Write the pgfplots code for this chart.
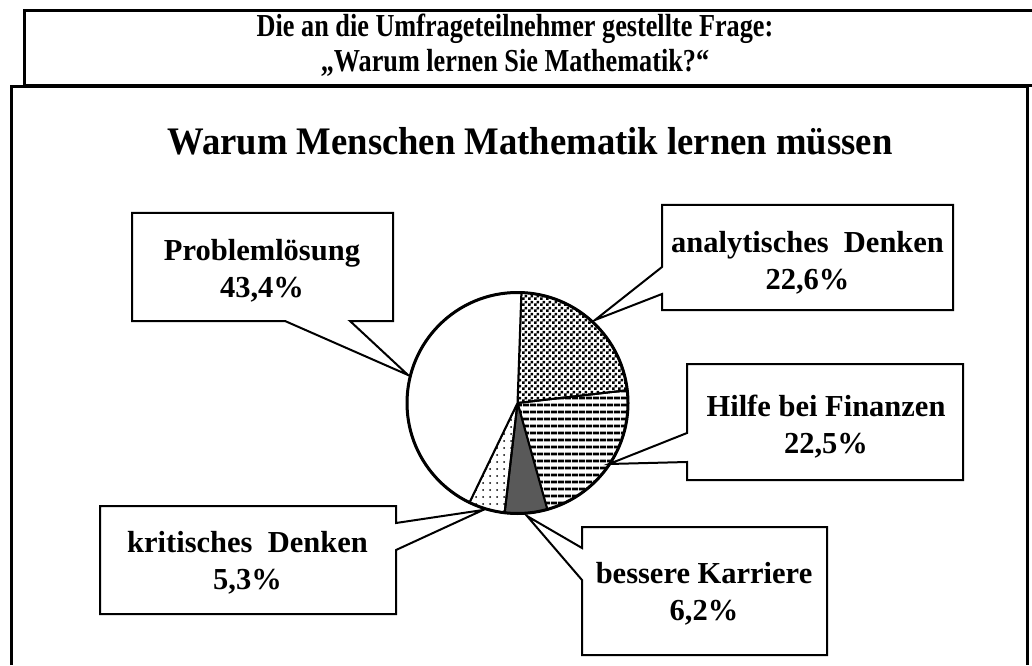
\documentclass[border=0pt]{standalone}
\usepackage{pgfplots}
\pgfplotsset{compat=1.18}
\usepackage{fontspec}
\setmainfont{Liberation Serif}
\usetikzlibrary{patterns,patterns.meta}

\pgfdeclarepatternformonly{checker}{\pgfpointorigin}{\pgfqpoint{6pt}{6pt}}{\pgfqpoint{6pt}{6pt}}{%
 \pgfpathrectangle{\pgfpointorigin}{\pgfqpoint{3pt}{3pt}}%
 \pgfpathrectangle{\pgfqpoint{3pt}{3pt}}{\pgfqpoint{3pt}{3pt}}%
 \pgfusepath{fill}}

% data (percent)
\def\vA{22.6} % analytisches Denken
\def\vB{22.5} % Hilfe bei Finanzen
\def\vC{6.2}  % bessere Karriere
\def\vD{5.3}  % kritisches Denken
\def\vE{43.4} % Problemloesung
\pgfmathsetmacro\aZ{88}
\pgfmathsetmacro\aA{\aZ-3.6*\vA}
\pgfmathsetmacro\aB{\aA-3.6*\vB}
\pgfmathsetmacro\aC{\aB-3.6*\vC}
\pgfmathsetmacro\aD{\aC-3.6*\vD}
\pgfmathsetmacro\aE{\aD-3.6*\vE}
\def\cx{517.5}
\def\cy{262}
\def\rr{110.5}

\newcommand\labfont{\fontsize{30.5}{37}\selectfont\bfseries}

\begin{document}
\begin{tikzpicture}
\begin{axis}[width=1032pt,height=665pt,scale only axis,
  xmin=0,xmax=1032,ymin=0,ymax=665,hide axis,clip=true]
\path (axis cs:0,0) rectangle (axis cs:1032,665);
% frames
\draw[line width=3pt] (axis cs:1032,579) -- (axis cs:24,579) -- (axis cs:24,654) -- (axis cs:1032,654);
\draw[line width=3pt] (axis cs:11,0) -- (axis cs:11,578) -- (axis cs:1027,578) -- (axis cs:1027,0);
% titles
\node[align=center,font=\fontsize{32}{35}\selectfont\bfseries] at (axis cs:515,619.5)
  {\scalebox{0.82}[1]{Die an die Umfrageteilnehmer gestellte Frage:}\\\scalebox{0.82}[1]{„Warum lernen Sie Mathematik?“}};
\node[font=\fontsize{39}{42}\selectfont\bfseries] at (axis cs:530,524)
  {\scalebox{0.94}[1]{Warum\ Menschen Mathematik lernen müssen}};
% callouts
\draw[line width=2pt,fill=white] (axis cs:132,452) -- (axis cs:393,452) -- (axis cs:393,344) -- (axis cs:350,344) -- (axis cs:408,290) -- (axis cs:285,344) -- (axis cs:132,344) -- cycle;
\draw[line width=2pt,fill=white] (axis cs:662,460) -- (axis cs:953,460) -- (axis cs:953,355) -- (axis cs:662,355) -- (axis cs:662,371) -- (axis cs:595,345) -- (axis cs:662,398) -- cycle;
\draw[line width=2pt,fill=white] (axis cs:687,301) -- (axis cs:963,301) -- (axis cs:963,185) -- (axis cs:687,185) -- (axis cs:687,203) -- (axis cs:609,201) -- (axis cs:687,232) -- cycle;
\draw[line width=2pt,fill=white] (axis cs:100,159) -- (axis cs:396,159) -- (axis cs:396,142) -- (axis cs:483,155) -- (axis cs:396,115) -- (axis cs:396,51) -- (axis cs:100,51) -- cycle;
\draw[line width=2pt,fill=white] (axis cs:582,138) -- (axis cs:827,138) -- (axis cs:827,10) -- (axis cs:582,10) -- (axis cs:582,85) -- (axis cs:527,149) -- (axis cs:582,117) -- cycle;
\node[font=\labfont,align=center] at (axis cs:262,394.5) {Problemlösung\\43,4\%};
\node[font=\labfont,align=center] at (axis cs:807.5,402.5) {analytisches\ \ Denken\\22,6\%};
\node[font=\labfont,align=center] at (axis cs:826,238) {Hilfe bei Finanzen\\22,5\%};
\node[font=\labfont,align=center] at (axis cs:247.5,102.5) {kritisches\ \ Denken\\5,3\%};
\node[font=\labfont,align=center] at (axis cs:704,71) {bessere Karriere\\6,2\%};
% pie slices
\addplot[draw=black,line width=2pt,pattern=checker,domain=\aA:\aZ,samples=60,variable=\t]
  ({\cx+\rr*cos(\t)},{\cy+\rr*sin(\t)}) -- (axis cs:\cx,\cy) -- cycle;
\addplot[draw=black,line width=2pt,pattern={Lines[angle=0,distance=6.5pt,line width=3pt]},domain=\aB:\aA,samples=60,variable=\t]
  ({\cx+\rr*cos(\t)},{\cy+\rr*sin(\t)}) -- (axis cs:\cx,\cy) -- cycle;
\addplot[draw=black,line width=2pt,fill=black!65,domain=\aC:\aB,samples=20,variable=\t]
  ({\cx+\rr*cos(\t)},{\cy+\rr*sin(\t)}) -- (axis cs:\cx,\cy) -- cycle;
\addplot[draw=black,line width=2pt,pattern={Dots[distance=7pt,radius=1pt]},domain=\aD:\aC,samples=20,variable=\t]
  ({\cx+\rr*cos(\t)},{\cy+\rr*sin(\t)}) -- (axis cs:\cx,\cy) -- cycle;
\addplot[draw=black,line width=2pt,fill=white,domain=\aE:\aD,samples=120,variable=\t]
  ({\cx+\rr*cos(\t)},{\cy+\rr*sin(\t)}) -- (axis cs:\cx,\cy) -- cycle;
\draw[line width=3pt] (axis cs:\cx,\cy) circle[radius=\rr];
\end{axis}
\end{tikzpicture}
\end{document}
